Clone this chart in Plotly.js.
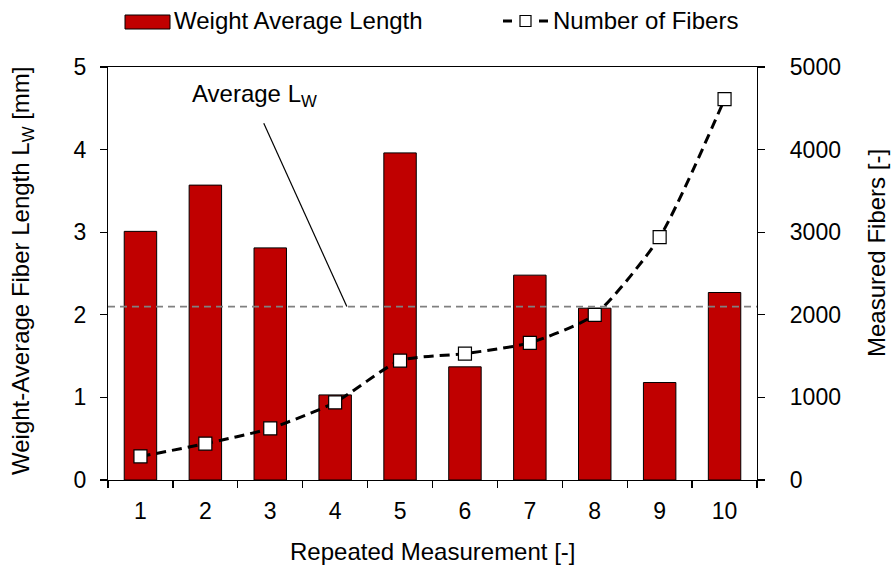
<!DOCTYPE html>
<html>
<head>
<meta charset="utf-8">
<script src="https://cdn.plot.ly/plotly-3.0.1.min.js"></script>
<style>
  html, body { margin: 0; padding: 0; background: #fff; }
  #chart { width: 891px; height: 565px; }
</style>
</head>
<body>
<div id="chart"></div>
<script>
// Repeated fiber length measurements
const measurements = ['1', '2', '3', '4', '5', '6', '7', '8', '9', '10'];
const weightAvgLength = [3.01, 3.57, 2.81, 1.03, 3.96, 1.37, 2.48, 2.08, 1.18, 2.27]; // mm
const numberOfFibers = [285, 440, 625, 940, 1445, 1530, 1660, 2000, 2940, 4610];
const averageLw = 2.10; // mm

const FONT = 'Arial, "Liberation Sans", sans-serif';
const titleSize = 24;
const tickSize = 23;

// plot area in pixels
const W = 891, H = 565;
const M = { l: 108, r: 134, t: 67, b: 85 };
const plotW = W - M.l - M.r, plotH = H - M.t - M.b;
const px = x => (x - M.l) / plotW;
const py = y => (H - M.b - y) / plotH;

const bars = {
  type: 'bar',
  x: measurements,
  y: weightAvgLength,
  name: 'Weight Average Length',
  marker: { color: '#C00000', line: { color: '#000000', width: 1 } },
  yaxis: 'y',
  showlegend: false
};

const fibers = {
  type: 'scatter',
  mode: 'lines+markers',
  x: measurements,
  y: numberOfFibers,
  name: 'Number of Fibers',
  yaxis: 'y2',
  line: { color: '#000000', width: 3, dash: '10px,6px', shape: 'spline', smoothing: 0.6 },
  marker: { symbol: 'square', size: 13, color: '#ffffff', line: { color: '#000000', width: 1.2 } },
  showlegend: false
};

const axisCommon = {
  ticks: 'outside',
  ticklen: 7,
  tickcolor: '#000',
  tickwidth: 1.2,
  showline: true,
  linecolor: '#000',
  linewidth: 1.2,
  showgrid: false,
  zeroline: false,
  tickfont: { family: FONT, size: tickSize, color: '#000' }
};

const layout = {
  width: W,
  height: H,
  margin: M,
  paper_bgcolor: '#ffffff',
  plot_bgcolor: '#ffffff',
  font: { family: FONT, size: titleSize, color: '#000000' },
  bargap: 0.5,
  showlegend: false,
  xaxis: Object.assign({}, axisCommon, {
    type: 'category',
    range: [-0.5, measurements.length - 0.5],
    tickson: 'boundaries',
    mirror: true,
    ticklabelstandoff: 10
  }),
  yaxis: Object.assign({}, axisCommon, {
    range: [0, 5],
    dtick: 1,
    ticklabelstandoff: 9
  }),
  yaxis2: Object.assign({}, axisCommon, {
    overlaying: 'y',
    side: 'right',
    range: [0, 5000],
    dtick: 1000,
    ticklabelstandoff: 20
  }),
  shapes: [
    // average weight-average length reference line
    { type: 'line', xref: 'paper', x0: 0, x1: 1, yref: 'y', y0: averageLw, y1: averageLw,
      line: { color: '#808080', width: 1.8, dash: '7px,5px' }, layer: 'above' },
    // leader line from the label to the reference line
    { type: 'line', xref: 'x', yref: 'y', x0: 1.90, y0: 4.32, x1: 3.18, y1: averageLw,
      line: { color: '#000000', width: 1.2 } },
    // legend swatches
    { type: 'rect', xref: 'paper', yref: 'paper', x0: px(125), x1: px(170), y0: py(29), y1: py(15),
      fillcolor: '#C00000', line: { color: '#000000', width: 1 } },
    { type: 'line', xref: 'paper', yref: 'paper', x0: px(503), x1: px(512), y0: py(21), y1: py(21),
      line: { color: '#000000', width: 3 } },
    { type: 'line', xref: 'paper', yref: 'paper', x0: px(539), x1: px(548), y0: py(21), y1: py(21),
      line: { color: '#000000', width: 3 } },
    { type: 'rect', xref: 'paper', yref: 'paper', x0: px(520), x1: px(531), y0: py(26.5), y1: py(15.5),
      fillcolor: '#ffffff', line: { color: '#000000', width: 1.2 } }
  ],
  annotations: [
    { xref: 'x', yref: 'y', x: 1.75, y: 4.65, text: 'Average L<sub>W</sub>', showarrow: false,
      font: { family: FONT, size: titleSize } },
    { xref: 'paper', yref: 'paper', x: px(172), y: py(21), xanchor: 'left', yanchor: 'middle',
      text: 'Weight Average Length', showarrow: false, font: { family: FONT, size: titleSize } },
    { xref: 'paper', yref: 'paper', x: px(551), y: py(21), xanchor: 'left', yanchor: 'middle',
      text: 'Number of Fibers', showarrow: false, font: { family: FONT, size: titleSize } },
    // axis titles
    { xref: 'paper', yref: 'paper', x: px(432), y: py(551), xanchor: 'center', yanchor: 'middle',
      text: 'Repeated Measurement [-]', showarrow: false, font: { family: FONT, size: titleSize } },
    { xref: 'paper', yref: 'paper', x: px(22), y: py(271), xanchor: 'center', yanchor: 'middle',
      textangle: -90, text: 'Weight-Average Fiber Length L<sub>W</sub> [mm]', showarrow: false,
      font: { family: FONT, size: titleSize } },
    { xref: 'paper', yref: 'paper', x: px(876), y: py(253), xanchor: 'center', yanchor: 'middle',
      textangle: -90, text: 'Measured Fibers [-]', showarrow: false,
      font: { family: FONT, size: titleSize } }
  ]
};

Plotly.newPlot('chart', [bars, fibers], layout, { displayModeBar: false, staticPlot: true });
</script>
</body>
</html>
